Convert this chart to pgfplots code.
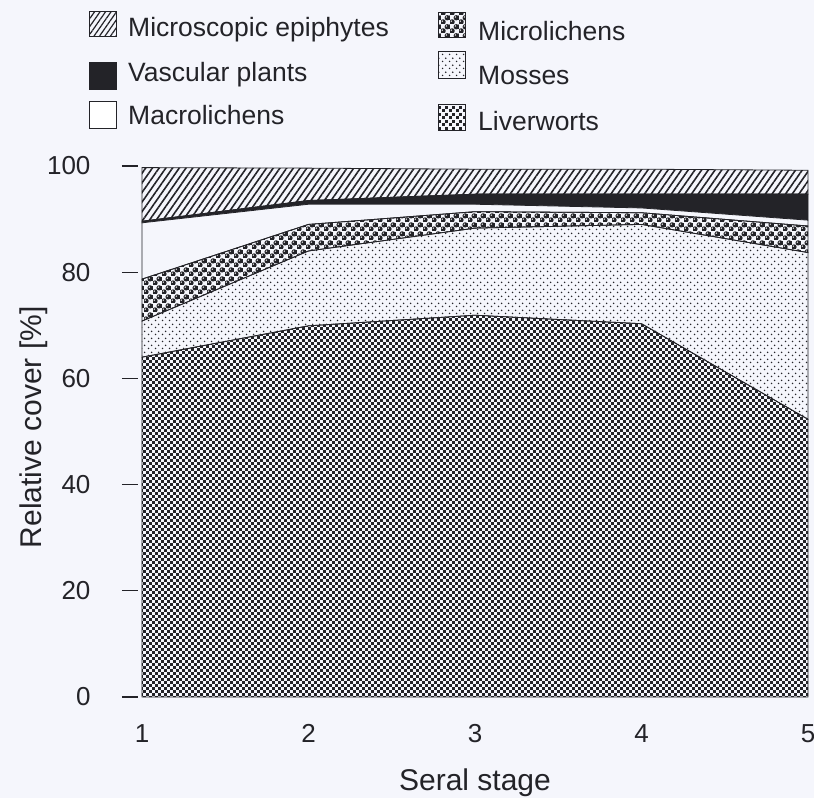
\documentclass[border=0pt]{standalone}
\usepackage{pgfplots}
\pgfplotsset{compat=1.18}
\usepackage{pgfplotstable}
\usepackage{fontspec}
\setmainfont{Liberation Sans}
\usetikzlibrary{patterns,patterns.meta}
\definecolor{bg}{RGB}{245,246,252}
\definecolor{ink}{RGB}{35,35,40}

% Mosses: sparse staggered dots
\pgfdeclarepatternformonly{mossdots}{\pgfpointorigin}{\pgfqpoint{7pt}{7pt}}{\pgfqpoint{7pt}{7pt}}{%
  \pgfpathcircle{\pgfqpoint{1.75pt}{1.75pt}}{0.9pt}%
  \pgfpathcircle{\pgfqpoint{5.25pt}{5.25pt}}{0.9pt}%
  \pgfusepath{fill}}
% Liverworts: dense staggered squares
\pgfdeclarepatternformonly{liversq}{\pgfpointorigin}{\pgfqpoint{6.4pt}{6.4pt}}{\pgfqpoint{6.4pt}{6.4pt}}{%
  \pgfpathrectangle{\pgfqpoint{0.1pt}{0.1pt}}{\pgfqpoint{3.0pt}{3.0pt}}%
  \pgfpathrectangle{\pgfqpoint{3.3pt}{3.3pt}}{\pgfqpoint{3.0pt}{3.0pt}}%
  \pgfusepath{fill}}
% Microlichens: shaded balls
\pgfdeclarepatterninherentlycolored{microballs}{\pgfpointorigin}{\pgfqpoint{9pt}{9pt}}{\pgfqpoint{9pt}{9pt}}{%
  \pgfsetfillcolor{ink}%
  \pgfpathcircle{\pgfqpoint{2.25pt}{2.25pt}}{2.9pt}%
  \pgfpathcircle{\pgfqpoint{6.75pt}{6.75pt}}{2.9pt}%
  \pgfusepath{fill}%
  \pgfsetfillcolor{white}%
  \pgfpathcircle{\pgfqpoint{1.4pt}{3.1pt}}{0.8pt}%
  \pgfpathcircle{\pgfqpoint{5.9pt}{7.6pt}}{0.8pt}%
  \pgfusepath{fill}}

\pgfplotstableread{
x liv moss micro macro vasc epi
1 64.0 6.8 7.9 10.6 0.3 10.1
2 69.9 14.1 5.0 3.8 0.7 6.1
3 71.9 16.4 3.1 1.4 1.9 4.7
4 70.3 18.7 2.2 0.9 2.6 4.7
5 52.3 31.4 5.0 1.1 4.9 4.5
}\datatable

\begin{document}
\begin{tikzpicture}[x=1pt,y=1pt]
\fill[bg] (0,0) rectangle (814,-798);
\useasboundingbox (0,0) rectangle (814,-798);
\begin{axis}[
  at={(142pt,-697pt)}, anchor=south west,
  scale only axis, width=666pt, height=531pt,
  xmin=1, xmax=5, ymin=0, ymax=100,
  stack plots=y, clip=false,
  axis line style={draw=none},
  xtick={1,2,3,4,5}, xtick style={draw=none},
  ytick={0,20,40,60,80,100}, ytick pos=left,
  ytick style={line width=1.1pt, draw=ink, xshift=-4pt},
  tick align=outside, major tick length=16pt,
  /pgf/number format/assume math mode=true,
  ticklabel style={font=\fontsize{26}{30}\selectfont, text=ink},
  yticklabel style={xshift=-32pt},
  xticklabel style={yshift=-8pt},
  xlabel={Seral stage}, ylabel={Relative cover [\%]},
  every axis x label/.style={at={(rel axis cs:0.5,0)}, anchor=center, yshift=-86pt, font=\fontsize{30}{36}\selectfont, text=ink},
  every axis y label/.style={at={(axis description cs:-0.162,0.508)}, anchor=center, rotate=90, font=\fontsize{30}{36}\selectfont, text=ink},
]
\addplot[draw=ink, line width=0.8pt, pattern=liversq, pattern color=ink] table[x=x,y=liv]{\datatable} \closedcycle;
\addplot[draw=ink, line width=0.8pt, pattern=mossdots, pattern color=ink] table[x=x,y=moss]{\datatable} \closedcycle;
\addplot[draw=ink, line width=0.8pt, pattern=microballs] table[x=x,y=micro]{\datatable} \closedcycle;
\addplot[draw=ink, line width=0.8pt, fill=bg] table[x=x,y=macro]{\datatable} \closedcycle;
\addplot[draw=ink, line width=0.8pt, fill=ink] table[x=x,y=vasc]{\datatable} \closedcycle;
\addplot[draw=ink, line width=0.8pt, pattern={Lines[angle=55,distance=5.5pt,line width=1.6pt]}, pattern color=ink] table[x=x,y=epi]{\datatable} \closedcycle;
\end{axis}
% legend
\begin{scope}[line width=0.8pt, draw=ink]
\draw[ink, pattern={Lines[angle=55,distance=4.5pt,line width=1.2pt]}, pattern color=ink] (89,-11) rectangle (116,-36);
\draw[ink, fill=ink] (89,-62) rectangle (116,-89);
\draw[ink, fill=white] (89,-101) rectangle (116,-128);
\draw[ink, pattern=microballs] (438,-12) rectangle (465,-37);
\draw[ink, pattern=mossdots, pattern color=ink] (438,-51) rectangle (465,-78);
\draw[ink, pattern=liversq, pattern color=ink] (438,-104) rectangle (465,-130);
\end{scope}
\begin{scope}[every node/.style={anchor=base west, inner sep=0pt, font=\fontsize{26.5}{31}\selectfont, text=ink}]
\node at (128,-36.5) {Microscopic epiphytes};
\node at (128,-81) {Vascular plants};
\node at (128,-124) {Macrolichens};
\node at (478,-40) {Microlichens};
\node at (478,-84) {Mosses};
\node at (478,-130) {Liverworts};
\end{scope}
\end{tikzpicture}
\end{document}
